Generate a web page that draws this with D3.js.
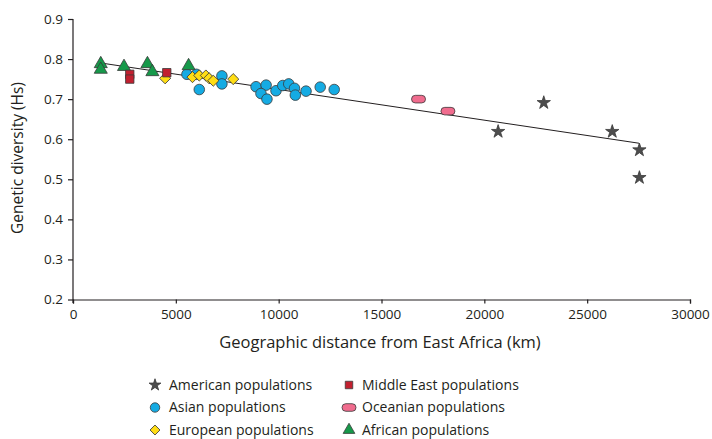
<!DOCTYPE html>
<html><head><meta charset="utf-8">
<script src="https://cdn.jsdelivr.net/npm/d3@7"></script>
<style>body{margin:0;background:#fff}svg{display:block}text{font-family:"Open Sans",sans-serif;fill:#231f20}</style>
</head><body><svg id="c" width="712" height="439"></svg>
<script>
const xTicks = [0,5000,10000,15000,20000,25000,30000];
const yTicks = [0.2,0.3,0.4,0.5,0.6,0.7,0.8,0.9];
const american = [[20670,0.619],[22890,0.691],[26220,0.619],[27540,0.573],[27540,0.504]];
const asian = [[5540,0.762],[6000,0.762],[6140,0.724],[7240,0.758],[7240,0.738],[8900,0.731],[9390,0.735],[9140,0.714],[9430,0.700],[9870,0.721],[10200,0.734],[10490,0.738],[10770,0.727],[10810,0.710],[11330,0.720],[12020,0.730],[12700,0.724]];
const european = [[4480,0.752],[5810,0.755],[6140,0.759],[6460,0.759],[6620,0.752],[6820,0.746],[7790,0.750]];
const middleEast = [[2760,0.762],[2760,0.750],[4560,0.766]];
const oceanian = [[16800,0.700],[18230,0.670]];
const african = [[1350,0.788],[1350,0.774],[2480,0.781],[3620,0.788],[3860,0.768],[5620,0.783]];
const trend = [[1510,0.789],[27520,0.590]];
const legendLabels = ["American populations","Asian populations","European populations","Middle East populations","Oceanian populations","African populations"];

const svg = d3.select("#c");
const x = d3.scaleLinear().domain([0,30000]).range([73,690]);
const y = d3.scaleLinear().domain([0.2,0.9]).range([299.5,19]);
const axisColor = "#231f20";

const xa = svg.append("g").attr("transform","translate(0,299.5)")
  .call(d3.axisBottom(x).tickValues(xTicks).tickFormat(d3.format("d")).tickSizeOuter(0).tickSize(4).tickPadding(6));
const ya = svg.append("g").attr("transform","translate(73,0)")
  .call(d3.axisLeft(y).tickValues(yTicks).tickFormat(d3.format(".1f")).tickSizeOuter(0).tickSize(5).tickPadding(5));
[xa,ya].forEach(a=>{a.select(".domain").attr("stroke",axisColor).attr("stroke-width",1.2);
  a.selectAll(".tick line").attr("stroke",axisColor).attr("stroke-width",1.2);
  a.selectAll(".tick text").style("font-size","13.5px").attr("fill","#231f20").style("font-family","'Open Sans',sans-serif");});
ya.select(".domain").attr("d","M0,19V303");

svg.append("text").attr("x",380).attr("y",348).attr("text-anchor","middle").style("font-size","16.5px").text("Geographic distance from East Africa (km)");
svg.append("text").attr("transform","translate(23,158) rotate(-90)").attr("text-anchor","middle").style("font-size","15.5px").text("Genetic diversity (Hs)");

svg.append("path").datum(trend).attr("d",d3.line().x(d=>x(d[0])).y(d=>y(d[1]))).attr("fill","none").attr("stroke","#231f20").attr("stroke-width",1);

const stroke = "#3a3a3a";
const styles = {
  american:{fill:"#4d4d4d",sym:d3.symbolStar,size:55,rot:0},
  asian:{fill:"#15abe3",sym:d3.symbolCircle,size:88,rot:0},
  european:{fill:"#ffdd15",sym:d3.symbolSquare,size:62,rot:45},
  middleEast:{fill:"#c2202f",sym:d3.symbolSquare,size:70,rot:0},
  african:{fill:"#16994a",sym:d3.symbolTriangle,size:74,rot:0}
};
function drawSym(data,st){
  svg.append("g").selectAll("path").data(data).join("path")
    .attr("transform",d=>`translate(${x(d[0])},${y(d[1])}) rotate(${st.rot})`)
    .attr("d",d3.symbol().type(st.sym).size(st.size))
    .attr("fill",st.fill).attr("stroke",stroke).attr("stroke-width",0.8);
}
function drawOval(data){
  svg.append("g").selectAll("rect").data(data).join("rect")
    .attr("x",d=>x(d[0])-7).attr("y",d=>y(d[1])-3.8).attr("width",14).attr("height",7.6).attr("rx",3.8)
    .attr("fill","#f06c8e").attr("stroke",stroke).attr("stroke-width",0.8);
}
drawSym(asian,styles.asian);
drawSym(european,styles.european);
drawSym(african,styles.african);
drawSym(middleEast,styles.middleEast);
drawSym(american,styles.american);
drawOval(oceanian);

// legend
const legendKeys = ["american","asian","european","middleEast","oceanian","african"];
legendKeys.forEach((k,i)=>{
  const col = Math.floor(i/3), row = i%3;
  const mx = col===0?155:349, tx = col===0?169:362, ly = 385+row*22.5;
  if(k==="oceanian"){
    svg.append("rect").attr("x",mx-7).attr("y",ly-3.8).attr("width",14).attr("height",7.6).attr("rx",3.8)
      .attr("fill","#f06c8e").attr("stroke",stroke).attr("stroke-width",0.8);
  } else {
    const st = styles[k];
    svg.append("path").attr("transform",`translate(${mx},${ly}) rotate(${st.rot})`).attr("d",d3.symbol().type(st.sym).size(st.size*0.8))
      .attr("fill",st.fill).attr("stroke",stroke).attr("stroke-width",0.8);
  }
  svg.append("text").attr("x",tx).attr("y",ly).attr("dy","0.35em").style("font-size","14px").text(legendLabels[i]);
});
</script></body></html>
